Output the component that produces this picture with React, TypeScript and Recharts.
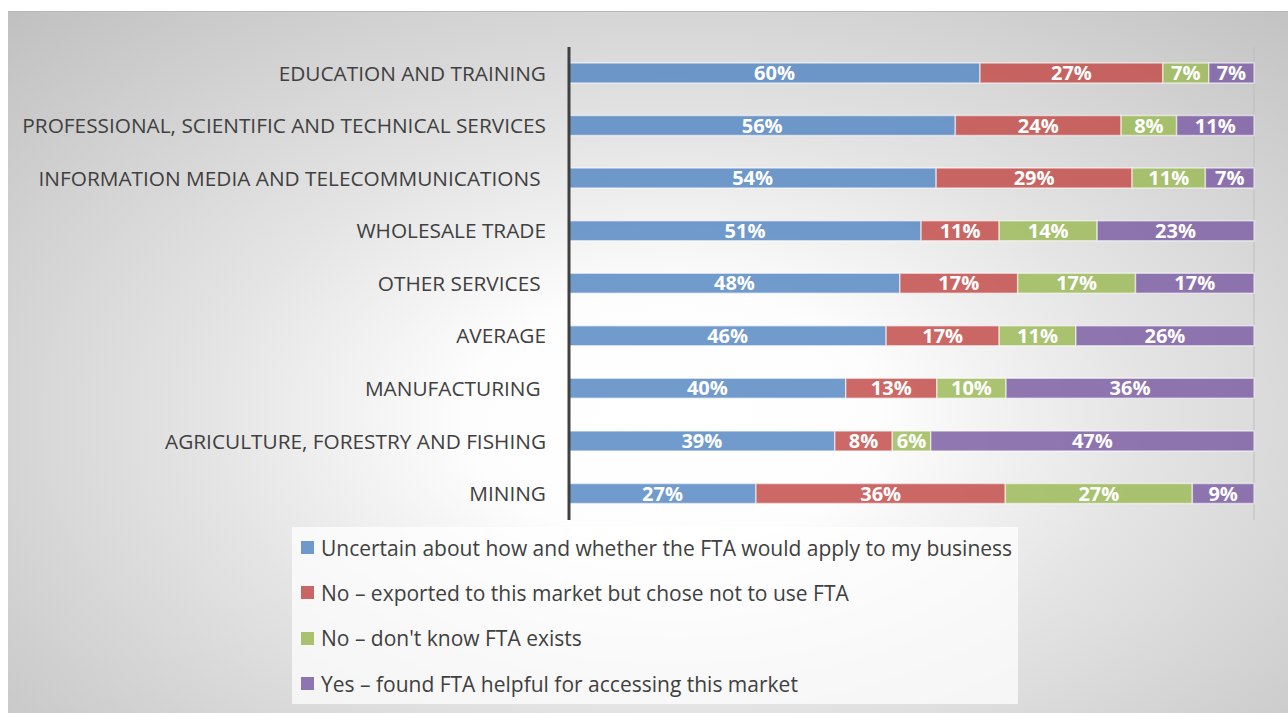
import React from 'react';
import { BarChart, Bar, XAxis, YAxis, CartesianGrid, LabelList, Legend } from 'recharts';

const categories = [
  'EDUCATION AND TRAINING',
  'PROFESSIONAL, SCIENTIFIC AND TECHNICAL SERVICES',
  'INFORMATION MEDIA AND TELECOMMUNICATIONS\u00a0',
  'WHOLESALE TRADE',
  'OTHER SERVICES\u00a0',
  'AVERAGE',
  'MANUFACTURING\u00a0',
  'AGRICULTURE, FORESTRY AND FISHING',
  'MINING',
];
const uncertain = [60.0, 56.4, 53.6, 51.4, 48.3, 46.3, 40.4, 38.8, 27.3];
const notUsed = [26.7, 24.2, 28.6, 11.4, 17.2, 16.5, 13.3, 8.4, 36.4];
const dontKnow = [6.7, 8.1, 10.7, 14.3, 17.2, 11.2, 10.1, 5.6, 27.3];
const helpful = [6.6, 11.3, 7.1, 22.9, 17.3, 26.0, 36.2, 47.2, 9.0];
const xTicks = [0, 20, 40, 60, 80, 100];

const seriesNames = [
  'Uncertain about how and whether the FTA would apply to my business',
  'No \u2013 exported to this market but chose not to use FTA',
  "No \u2013 don't know FTA exists",
  'Yes \u2013 found FTA helpful for accessing this market',
];
const seriesKeys = ['uncertain', 'notUsed', 'dontKnow', 'helpful'];
const colors = ['#5a8bc5', '#c4504d', '#9dbb5c', '#8062a6'];

const data = categories.map((name, i) => ({
  name,
  uncertain: uncertain[i],
  notUsed: notUsed[i],
  dontKnow: dontKnow[i],
  helpful: helpful[i],
}));

const fmt = (v: any) => `${Math.round(Number(v))}%`;

const LegendContent = () => (
  <div
    style={{
      width: '100%',
      height: '100%',
      background: 'rgba(255,255,255,0.72)',
      boxSizing: 'border-box',
      paddingLeft: 9,
    }}
  >
    <div style={{ transform: 'translateY(-2px)' }}>
      {seriesNames.map((n, i) => (
        <div
          key={n}
          style={{
            display: 'flex',
            alignItems: 'center',
            height: 45.3,
            fontFamily: '"Open Sans", sans-serif',
            fontSize: 21,
            color: '#404040',
            whiteSpace: 'nowrap',
          }}
        >
          <span
            style={{
              display: 'inline-block',
              width: 13,
              height: 13,
              background: colors[i],
              opacity: 0.88,
              marginRight: 7,
            }}
          />
          {n}
        </div>
      ))}
    </div>
  </div>
);

export default function App() {
  return (
    <div>
      <style>{`body{margin:0;overflow:hidden;background:#fff}`}</style>
      <div
        style={{
          position: 'absolute',
          left: 8,
          top: 11,
          width: 1280,
          height: 702,
          background:
            'radial-gradient(ellipse farthest-corner at 52% 58%, #ffffff 0%, #fdfdfd 22%, #e4e4e4 50%, #c0c0c0 100%)',
          borderTop: '1px solid #b8b8b8',
          boxSizing: 'border-box',
        }}
      >
        <BarChart
          width={1280}
          height={701}
          data={data}
          layout="vertical"
          barSize={20}
          margin={{ top: 35, right: 34, bottom: 193, left: 0 }}
        >
          <CartesianGrid horizontal={false} vertical stroke="#bdbdbd" strokeWidth={1} />
          <XAxis
            type="number"
            domain={[0, 100]}
            ticks={xTicks}
            height={0}
            tick={false}
            axisLine={false}
            tickLine={false}
          />
          <YAxis
            type="category"
            dataKey="name"
            width={561}
            axisLine={{ stroke: '#404040', strokeWidth: 3 }}
            tickLine={false}
            tickSize={6}
            tickMargin={17}
            tick={{ fontSize: 20.8, fill: '#404040', fontFamily: '"Open Sans", sans-serif' }}
            interval={0}
          />
          {seriesKeys.map((k, i) => (
            <Bar
              key={k}
              dataKey={k}
              name={seriesNames[i]}
              stackId="s"
              fill={colors[i]}
              fillOpacity={0.86}
              stroke="rgba(255,255,255,0.55)"
              strokeWidth={1.5}
              isAnimationActive={false}
            >
              <LabelList
                dataKey={k}
                position="center"
                formatter={fmt}
                fill="#ffffff"
                style={{
                  fontFamily: '"Open Sans", sans-serif',
                  fontWeight: 700,
                  fontSize: 20,
                }}
              />
            </Bar>
          ))}
          <Legend
            layout="vertical"
            align="center"
            verticalAlign="middle"
            content={<LegendContent />}
            wrapperStyle={{ left: 284, top: 515, width: 726, height: 177, bottom: 'auto', right: 'auto' }}
          />
        </BarChart>
      </div>
    </div>
  );
}
